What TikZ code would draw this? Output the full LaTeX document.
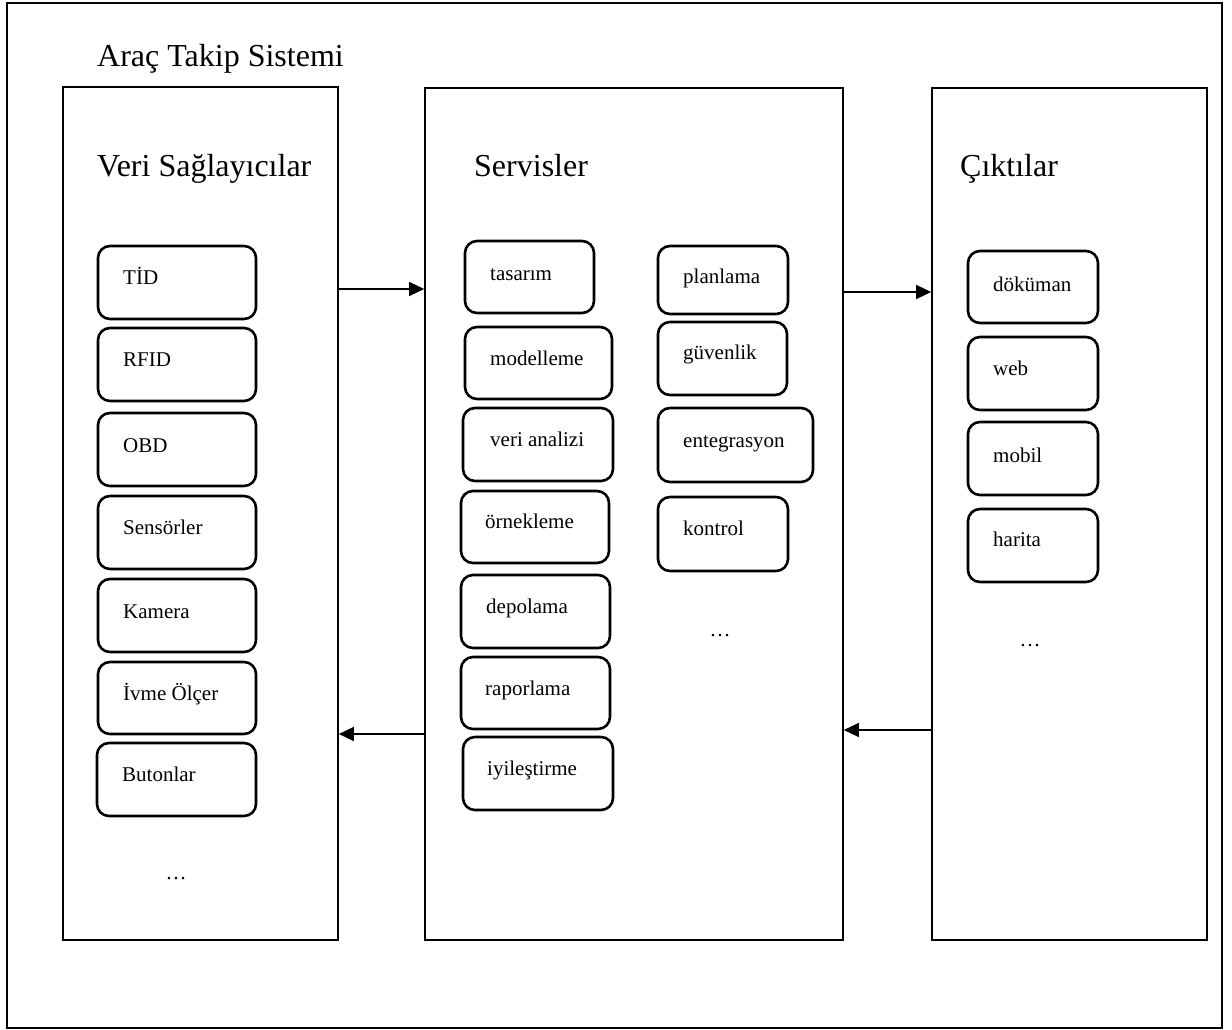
\documentclass[tikz,border=0pt]{standalone}
\usepackage{fontspec}
\setmainfont{Liberation Serif}
\usetikzlibrary{arrows.meta}

% one rounded item box with its left-aligned label
% #1 name, #2 x1, #3 y1, #4 x2, #5 y2, #6 label x, #7 label baseline y, #8 text
\newcommand{\kutu}[8]{%
  \node[kutustil, minimum width={#4-#2}, minimum height={#5-#3}] (#1) at ({(#2+#4)/2},{(#3+#5)/2}) {};
  \node[etiket, anchor=base west] (#1-t) at (#6,#7) {#8};
}
% one column panel
% #1 name, #2 x1, #3 y1, #4 x2, #5 y2
\newcommand{\panel}[5]{%
  \node[panelstil, minimum width={#4-#2}, minimum height={#5-#3}] (#1) at ({(#2+#4)/2},{(#3+#5)/2}) {};
}

\begin{document}
\begin{tikzpicture}[x=1pt, y=-1pt,
  kutustil/.style={draw, rectangle, rounded corners=12pt, line width=2.6pt, inner sep=0pt, fill=white},
  panelstil/.style={draw, rectangle, line width=1.6pt, inner sep=0pt, fill=white},
  etiket/.style={inner sep=0pt, font=\fontsize{21}{25}\selectfont},
  baslik/.style={inner sep=0pt, font=\fontsize{32}{38}\selectfont},
  nokta/.style={inner sep=0pt, font=\fontsize{21}{25}\selectfont},
  ok/.style={line width=1.3pt, -{Triangle[length=15pt,width=14pt]}}
]
\useasboundingbox (0,0) rectangle (1232,1030);

% outer frame of the whole system
\draw[line width=1.6pt] (7,3) rectangle (1222,1028);
\node[baslik, anchor=base west] (sistem) at (97,67) {Araç Takip Sistemi};

% the three columns
\panel{veri}{63}{87}{338}{940}
\panel{serv}{425}{88}{843}{940}
\panel{cikti}{932}{88}{1207}{940}

\node[baslik, anchor=base west] (veri-b) at (97,177) {Veri Sağlayıcılar};
\node[baslik, anchor=base west] (serv-b) at (474,177) {Servisler};
\node[baslik, anchor=base west] (cikti-b) at (960,177) {Çıktılar};

% data providers
\kutu{tid}{98}{246}{256}{319}{123}{284}{TİD}
\kutu{rfid}{98}{328}{256}{401}{123}{366}{RFID}
\kutu{obd}{98}{413}{256}{486}{123}{452}{OBD}
\kutu{sensor}{98}{496}{256}{569}{123}{534}{Sensörler}
\kutu{kamera}{98}{579}{256}{652}{123}{618}{Kamera}
\kutu{ivme}{98}{662}{256}{734}{123}{700}{İvme Ölçer}
\kutu{buton}{97}{743}{256}{816}{122}{781}{Butonlar}
\node[nokta, anchor=base] (veri-d) at (176,879) {…};

% services, first column
\kutu{tasarim}{465}{241}{594}{313}{490}{280}{tasarım}
\kutu{model}{465}{327}{612}{399}{490}{365}{modelleme}
\kutu{analiz}{463}{408}{613}{481}{490}{446}{veri analizi}
\kutu{ornek}{461}{491}{609}{563}{485}{528}{örnekleme}
\kutu{depo}{461}{575}{610}{648}{486}{613}{depolama}
\kutu{rapor}{461}{657}{610}{729}{485}{695}{raporlama}
\kutu{iyi}{463}{737}{613}{810}{487}{775}{iyileştirme}

% services, second column
\kutu{plan}{658}{246}{788}{314}{683}{283}{planlama}
\kutu{guven}{658}{322}{787}{395}{683}{359}{güvenlik}
\kutu{enteg}{658}{408}{813}{482}{683}{447}{entegrasyon}
\kutu{kontrol}{658}{497}{788}{571}{683}{535}{kontrol}
\node[nokta, anchor=base] (serv-d) at (720,636) {…};

% outputs
\kutu{dokuman}{968}{251}{1098}{323}{993}{291}{döküman}
\kutu{web}{968}{337}{1098}{410}{993}{375}{web}
\kutu{mobil}{968}{422}{1098}{495}{993}{462}{mobil}
\kutu{harita}{968}{509}{1098}{582}{993}{546}{harita}
\node[nokta, anchor=base] (cikti-d) at (1030,646) {…};

% flow levels between the columns
\coordinate (y1) at (0,289);
\coordinate (y2) at (0,292);
\coordinate (y3) at (0,730);
\coordinate (y4) at (0,734);

\draw[ok] (veri.east |- y1) -- (serv.west |- y1);
\draw[ok] (serv.east |- y2) -- (cikti.west |- y2);
\draw[ok] (cikti.west |- y3) -- (serv.east |- y3);
\draw[ok] (serv.west |- y4) -- (veri.east |- y4);
\end{tikzpicture}
\end{document}
